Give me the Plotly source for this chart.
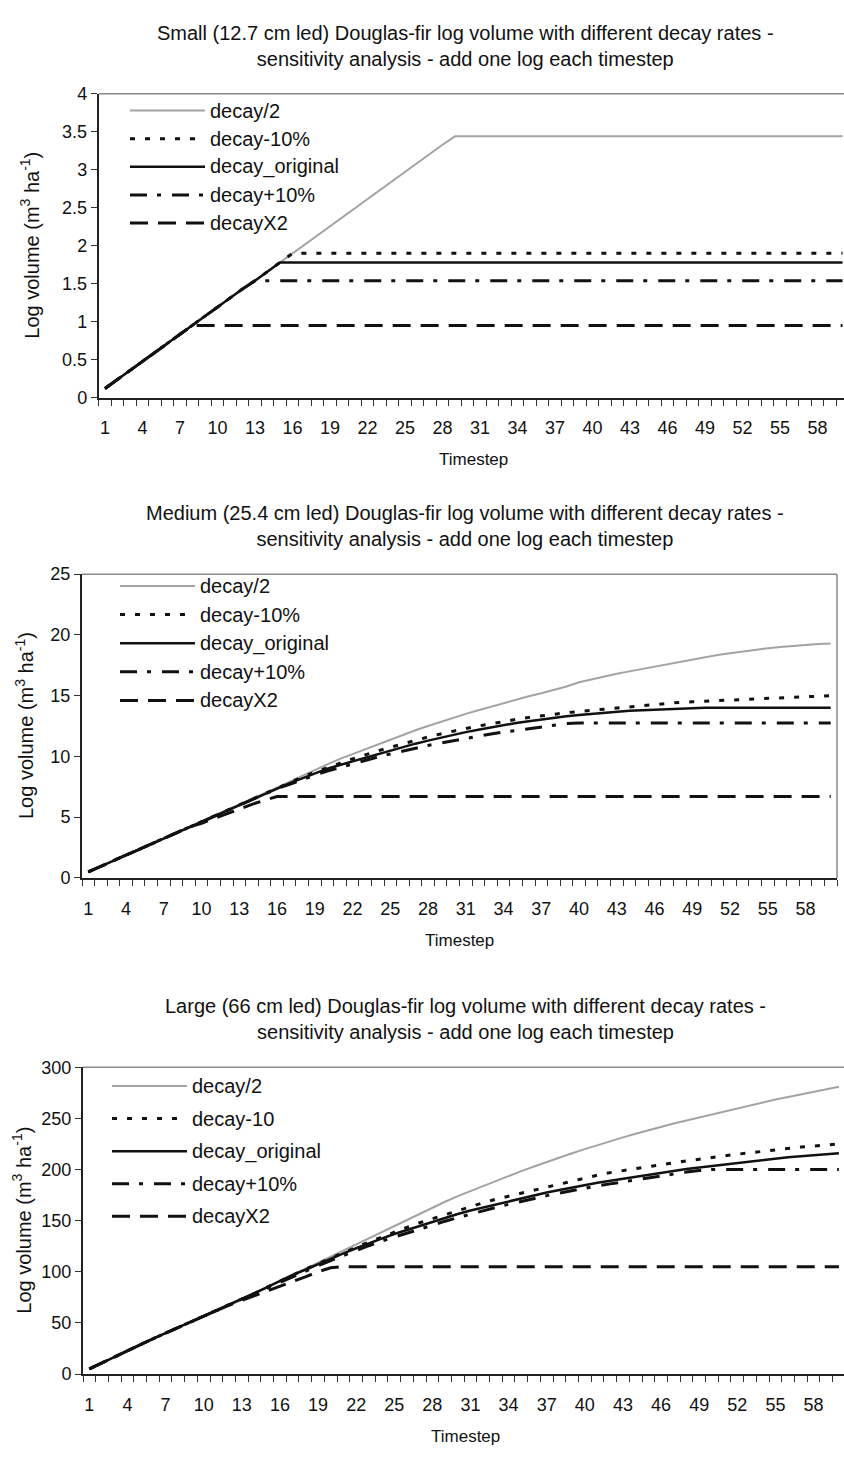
import plotly.graph_objects as go

W, H = 844, 1459
FONT = "Liberation Sans, Arial, sans-serif"

timestep = list(range(1, 61))
tick_labels = [1, 4, 7, 10, 13, 16, 19, 22, 25, 28, 31, 34, 37, 40, 43, 46, 49, 52, 55, 58]
series_names = ["decay/2", "decay-10%", "decay_original", "decay+10%", "decayX2"]
series_names_large = ["decay/2", "decay-10", "decay_original", "decay+10%", "decayX2"]

# ---- Small (12.7 cm led) ----
small_half = [0.12, 0.24, 0.36, 0.48, 0.59, 0.71, 0.83, 0.95, 1.07, 1.19,
              1.31, 1.43, 1.54, 1.66, 1.78, 1.90, 2.02, 2.14, 2.26, 2.38,
              2.49, 2.61, 2.73, 2.85, 2.97, 3.09, 3.21, 3.33, 3.44, 3.44,
              3.44, 3.44, 3.44, 3.44, 3.44, 3.44, 3.44, 3.44, 3.44, 3.44,
              3.44, 3.44, 3.44, 3.44, 3.44, 3.44, 3.44, 3.44, 3.44, 3.44,
              3.44, 3.44, 3.44, 3.44, 3.44, 3.44, 3.44, 3.44, 3.44, 3.44]
small_minus10 = [0.12, 0.24, 0.36, 0.48, 0.59, 0.71, 0.83, 0.95, 1.07, 1.19,
                 1.31, 1.43, 1.54, 1.66, 1.78, 1.90, 1.90, 1.90, 1.90, 1.90,
                 1.90, 1.90, 1.90, 1.90, 1.90, 1.90, 1.90, 1.90, 1.90, 1.90,
                 1.90, 1.90, 1.90, 1.90, 1.90, 1.90, 1.90, 1.90, 1.90, 1.90,
                 1.90, 1.90, 1.90, 1.90, 1.90, 1.90, 1.90, 1.90, 1.90, 1.90,
                 1.90, 1.90, 1.90, 1.90, 1.90, 1.90, 1.90, 1.90, 1.90, 1.90]
small_orig = [0.12, 0.24, 0.36, 0.48, 0.59, 0.71, 0.83, 0.95, 1.07, 1.19,
              1.31, 1.43, 1.54, 1.66, 1.78, 1.78, 1.78, 1.78, 1.78, 1.78,
              1.78, 1.78, 1.78, 1.78, 1.78, 1.78, 1.78, 1.78, 1.78, 1.78,
              1.78, 1.78, 1.78, 1.78, 1.78, 1.78, 1.78, 1.78, 1.78, 1.78,
              1.78, 1.78, 1.78, 1.78, 1.78, 1.78, 1.78, 1.78, 1.78, 1.78,
              1.78, 1.78, 1.78, 1.78, 1.78, 1.78, 1.78, 1.78, 1.78, 1.78]
small_plus10 = [0.12, 0.24, 0.36, 0.48, 0.59, 0.71, 0.83, 0.95, 1.07, 1.19,
                1.31, 1.43, 1.54, 1.54, 1.54, 1.54, 1.54, 1.54, 1.54, 1.54,
                1.54, 1.54, 1.54, 1.54, 1.54, 1.54, 1.54, 1.54, 1.54, 1.54,
                1.54, 1.54, 1.54, 1.54, 1.54, 1.54, 1.54, 1.54, 1.54, 1.54,
                1.54, 1.54, 1.54, 1.54, 1.54, 1.54, 1.54, 1.54, 1.54, 1.54,
                1.54, 1.54, 1.54, 1.54, 1.54, 1.54, 1.54, 1.54, 1.54, 1.54]
small_x2 = [0.12, 0.24, 0.36, 0.48, 0.59, 0.71, 0.83, 0.95, 0.95, 0.95,
            0.95, 0.95, 0.95, 0.95, 0.95, 0.95, 0.95, 0.95, 0.95, 0.95,
            0.95, 0.95, 0.95, 0.95, 0.95, 0.95, 0.95, 0.95, 0.95, 0.95,
            0.95, 0.95, 0.95, 0.95, 0.95, 0.95, 0.95, 0.95, 0.95, 0.95,
            0.95, 0.95, 0.95, 0.95, 0.95, 0.95, 0.95, 0.95, 0.95, 0.95,
            0.95, 0.95, 0.95, 0.95, 0.95, 0.95, 0.95, 0.95, 0.95, 0.95]

# ---- Medium (25.4 cm led) ----
med_half = [0.50, 0.96, 1.42, 1.88, 2.34, 2.80, 3.26, 3.72, 4.18, 4.64,
            5.10, 5.56, 6.02, 6.48, 6.94, 7.40, 7.90, 8.40, 8.90, 9.35,
            9.80, 10.20, 10.60, 11.00, 11.40, 11.80, 12.15, 12.50, 12.85, 13.20,
            13.50, 13.80, 14.10, 14.40, 14.65, 14.95, 15.20, 15.45, 15.75, 16.10,
            16.35, 16.60, 16.80, 17.00, 17.20, 17.40, 17.60, 17.80, 18.00, 18.20,
            18.35, 18.50, 18.65, 18.80, 18.90, 19.00, 19.10, 19.20, 19.25, 19.30]
med_minus10 = [0.50, 0.96, 1.42, 1.88, 2.34, 2.80, 3.26, 3.72, 4.18, 4.64,
               5.10, 5.56, 6.02, 6.48, 6.94, 7.40, 7.85, 8.30, 8.70, 9.10,
               9.45, 9.80, 10.15, 10.45, 10.75, 11.05, 11.35, 11.60, 11.85, 12.10,
               12.30, 12.50, 12.70, 12.90, 13.05, 13.20, 13.35, 13.50, 13.60, 13.70,
               13.80, 13.90, 14.00, 14.10, 14.20, 14.30, 14.40, 14.45, 14.50, 14.55,
               14.60, 14.65, 14.70, 14.75, 14.80, 14.85, 14.90, 14.95, 15.00, 15.00]
med_orig = [0.50, 0.96, 1.42, 1.88, 2.34, 2.80, 3.26, 3.72, 4.18, 4.64,
            5.10, 5.56, 6.02, 6.48, 6.94, 7.40, 7.80, 8.20, 8.60, 9.00,
            9.30, 9.60, 9.90, 10.20, 10.50, 10.80, 11.05, 11.30, 11.55, 11.80,
            12.00, 12.20, 12.40, 12.60, 12.75, 12.90, 13.05, 13.20, 13.30, 13.40,
            13.50, 13.60, 13.70, 13.75, 13.80, 13.85, 13.90, 13.95, 14.00, 14.00,
            14.00, 14.00, 14.00, 14.00, 14.00, 14.00, 14.00, 14.00, 14.00, 14.00]
med_plus10 = [0.50, 0.96, 1.42, 1.88, 2.34, 2.80, 3.26, 3.72, 4.18, 4.64,
              5.10, 5.56, 6.02, 6.48, 6.94, 7.35, 7.70, 8.10, 8.45, 8.80,
              9.10, 9.40, 9.70, 9.95, 10.20, 10.45, 10.70, 10.90, 11.10, 11.30,
              11.50, 11.70, 11.85, 12.00, 12.15, 12.30, 12.45, 12.60, 12.70, 12.75,
              12.75, 12.75, 12.75, 12.75, 12.75, 12.75, 12.75, 12.75, 12.75, 12.75,
              12.75, 12.75, 12.75, 12.75, 12.75, 12.75, 12.75, 12.75, 12.75, 12.75]
med_x2 = [0.50, 0.96, 1.42, 1.88, 2.34, 2.80, 3.26, 3.72, 4.18, 4.50,
          4.90, 5.30, 5.70, 6.05, 6.40, 6.70, 6.70, 6.70, 6.70, 6.70,
          6.70, 6.70, 6.70, 6.70, 6.70, 6.70, 6.70, 6.70, 6.70, 6.70,
          6.70, 6.70, 6.70, 6.70, 6.70, 6.70, 6.70, 6.70, 6.70, 6.70,
          6.70, 6.70, 6.70, 6.70, 6.70, 6.70, 6.70, 6.70, 6.70, 6.70,
          6.70, 6.70, 6.70, 6.70, 6.70, 6.70, 6.70, 6.70, 6.70, 6.70]

# ---- Large (66 cm led) ----
large_half = [5, 11, 17, 23, 29, 34.5, 40, 45.5, 51, 56.5,
              62, 67.5, 73, 79, 85, 91, 97, 103, 109, 115,
              121, 127, 133, 139, 145, 151, 157, 163, 168.5, 174,
              179, 184, 189, 194, 198.5, 203, 207.5, 212, 216, 220,
              224, 228, 231.5, 235, 238.5, 242, 245, 248, 251, 254,
              257, 260, 263, 266, 268.5, 271, 273.5, 276, 278.5, 281]
large_minus10 = [5, 11, 17, 23, 29, 34.5, 40, 45.5, 51, 56.5,
                 62, 67.5, 73, 79, 85, 91, 97, 102.5, 108, 113.5,
                 119, 124, 129, 134, 139, 143.5, 148, 152, 156, 160,
                 164, 167.5, 171, 174, 177, 180, 183, 186, 189, 192,
                 194.5, 197, 199, 201, 203, 205, 207, 208.5, 210, 212,
                 213.5, 215, 216.5, 218, 219, 220.5, 222, 223, 224, 225]
large_orig = [5, 11, 17, 23, 29, 34.5, 40, 45.5, 51, 56.5,
              62, 67.5, 73, 79, 85, 91, 97, 102, 107.5, 113,
              118, 123, 128, 132.5, 137, 141, 145, 149, 153, 156.5,
              160, 163, 166, 169, 172, 175, 177.5, 180, 182.5, 185,
              187, 189, 191, 193, 195, 197, 199, 200.5, 202, 203.5,
              205, 206.5, 208, 209.5, 211, 212, 213, 214, 215, 216]
large_plus10 = [5, 11, 17, 23, 29, 34.5, 40, 45.5, 51, 56.5,
                62, 67.5, 73, 79, 84.5, 90, 95.5, 101, 106, 111,
                116, 121, 125.5, 130, 134, 138, 142, 146, 149.5, 153,
                156.5, 160, 163, 166, 169, 172, 174.5, 177, 179.5, 182,
                184, 186, 188, 190, 192, 194, 196, 197.5, 199, 200,
                200, 200, 200, 200, 200, 200, 200, 200, 200, 200]
large_x2 = [5, 11, 17, 23, 29, 34.5, 40, 45.5, 51, 56.5,
            62, 67.5, 72, 76.5, 81, 85.5, 90, 95, 100, 104,
            105, 105, 105, 105, 105, 105, 105, 105, 105, 105,
            105, 105, 105, 105, 105, 105, 105, 105, 105, 105,
            105, 105, 105, 105, 105, 105, 105, 105, 105, 105,
            105, 105, 105, 105, 105, 105, 105, 105, 105, 105]

titles = [
    "Small (12.7 cm led) Douglas-fir log volume with different decay rates -<br>sensitivity analysis - add one log each timestep",
    "Medium (25.4 cm led) Douglas-fir log volume with different decay rates -<br>sensitivity analysis - add one log each timestep",
    "Large (66 cm led) Douglas-fir log volume with different decay rates -<br>sensitivity analysis - add one log each timestep",
]

# line styles: decay/2, decay-10, original, decay+10, decayX2
styles = [
    dict(color="#a3a3a3", width=2, dash="solid"),
    dict(color="#111111", width=3, dash="5px,10px"),
    dict(color="#111111", width=2.5, dash="solid"),
    dict(color="#111111", width=3, dash="17px,10px,4px,11px"),
    dict(color="#111111", width=3, dash="18px,10px"),
]


def px_x(v):
    return v / W


def px_y(v):
    return 1 - v / H


# per-panel geometry (pixels): left, right, top, bottom, x-range end
panels = [
    dict(left=98.75, right=844, top=85, bottom=393, xmax=60.12, ymax=4, dtick=0.5,
         data=[small_half, small_minus10, small_orig, small_plus10, small_x2],
         names=series_names, leg_x=130, leg_y0=102, leg_dy=28.5, ytitle_x=30, frame_right=False),
    dict(left=82, right=837, top=572, bottom=880, xmax=60.5, ymax=25, dtick=5,
         data=[med_half, med_minus10, med_orig, med_plus10, med_x2],
         names=series_names, leg_x=120, leg_y0=584, leg_dy=29, ytitle_x=24, frame_right=True),
    dict(left=83, right=844, top=1072, bottom=1383, xmax=60.4, ymax=300, dtick=50,
         data=[large_half, large_minus10, large_orig, large_plus10, large_x2],
         names=series_names_large, leg_x=112, leg_y0=1091, leg_dy=33, ytitle_x=22, frame_right=False),
]

fig = go.Figure()
shapes = []
annotations = []
layout = dict(
    width=W, height=H,
    margin=dict(l=0, r=0, t=0, b=0),
    paper_bgcolor="white", plot_bgcolor="white",
    showlegend=False,
    font=dict(family=FONT, size=18, color="#111111"),
)

for i, p in enumerate(panels):
    n = "" if i == 0 else str(i + 1)
    xa, ya = "x" + n, "y" + n
    for vals, st in zip(p["data"], styles):
        fig.add_trace(go.Scatter(
            x=timestep, y=vals, mode="lines", xaxis=xa, yaxis=ya,
            line=dict(color=st["color"], width=st["width"], dash=st["dash"]),
            hoverinfo="skip",
        ))

    layout["xaxis" + n] = dict(
        domain=[px_x(p["left"]), px_x(p["right"])],
        range=[0.5, p["xmax"]], anchor=ya,
        tickmode="array", tickvals=tick_labels, ticktext=[str(t) for t in tick_labels],
        # invisible major ticks push the labels down; visible ticks sit between categories
        ticks="outside", ticklen=13, tickcolor="rgba(0,0,0,0)",
        showgrid=False, zeroline=False,
        showline=True, linecolor="#222222", linewidth=2,
        tickfont=dict(size=18, family=FONT, color="#111111"),
        minor=dict(tickmode="linear", tick0=0.5, dtick=1, ticks="outside",
                   ticklen=6, tickcolor="#333333", tickwidth=1, showgrid=False),
    )
    layout["yaxis" + n] = dict(
        domain=[px_y(p["bottom"]), px_y(p["top"])],
        range=[0, p["ymax"]], anchor=xa,
        tickmode="linear", tick0=0, dtick=p["dtick"],
        ticks="outside", ticklen=6, tickcolor="#333333", tickwidth=1,
        showgrid=False, zeroline=False,
        showline=True, linecolor="#222222", linewidth=2,
        tickfont=dict(size=18, family=FONT, color="#111111"),
    )

    # grey frame on the top (and right where visible)
    shapes.append(dict(type="line", xref="paper", yref="paper",
                       x0=px_x(p["left"]), x1=px_x(p["right"]),
                       y0=px_y(p["top"]), y1=px_y(p["top"]),
                       line=dict(color="#8a8a8a", width=1.5), layer="below"))
    if p["frame_right"]:
        shapes.append(dict(type="line", xref="paper", yref="paper",
                           x0=px_x(p["right"]), x1=px_x(p["right"]),
                           y0=px_y(p["top"]), y1=px_y(p["bottom"]),
                           line=dict(color="#8a8a8a", width=1.5), layer="below"))

    # panel title
    annotations.append(dict(
        text=titles[i], xref="paper", yref="paper",
        x=px_x(465), y=px_y(p["top"] - 49), xanchor="center", yanchor="middle",
        showarrow=False, align="center",
        font=dict(size=20, family=FONT, color="#111111"),
    ))
    # y-axis title
    annotations.append(dict(
        text="Log volume (m<sup>3</sup> ha<sup>-1</sup>)", xref="paper", yref="paper",
        x=px_x(p["ytitle_x"]), y=px_y((p["top"] + p["bottom"]) / 2),
        xanchor="center", yanchor="middle", textangle=-90, showarrow=False,
        font=dict(size=20, family=FONT, color="#111111"),
    ))
    # x-axis title
    annotations.append(dict(
        text="Timestep", xref="paper", yref="paper",
        x=px_x((p["left"] + 848) / 2 if not p["frame_right"] else (p["left"] + p["right"]) / 2),
        y=px_y(p["bottom"] + 63), xanchor="center", yanchor="middle", showarrow=False,
        font=dict(size=17, family=FONT, color="#111111"),
    ))

    # legend: line sample + label
    for k, (name, st) in enumerate(zip(p["names"], styles)):
        yy = p["leg_y0"] + k * p["leg_dy"]
        shapes.append(dict(type="line", xref="paper", yref="paper",
                           x0=px_x(p["leg_x"]), x1=px_x(p["leg_x"] + 75),
                           y0=px_y(yy), y1=px_y(yy),
                           line=dict(color=st["color"], width=st["width"], dash=st["dash"])))
        annotations.append(dict(
            text=name, xref="paper", yref="paper",
            x=px_x(p["leg_x"] + 78), y=px_y(yy), xanchor="left", yanchor="middle",
            showarrow=False, font=dict(size=20, family=FONT, color="#111111"),
        ))

layout["shapes"] = shapes
layout["annotations"] = annotations
fig.update_layout(**layout)
fig.write_html("out.html")
